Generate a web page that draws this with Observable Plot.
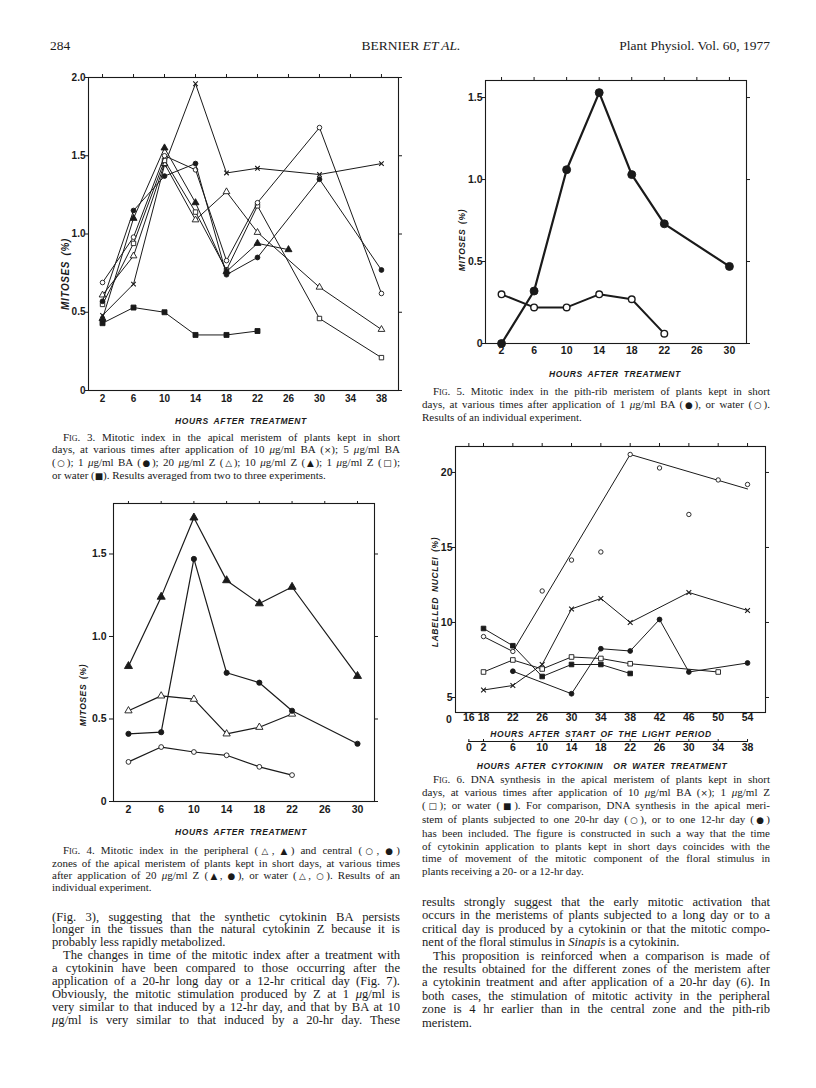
<!DOCTYPE html>
<html>
<head>
<meta charset="utf-8">
<script src="https://cdn.jsdelivr.net/npm/d3@7"></script>
<script src="https://cdn.jsdelivr.net/npm/@observablehq/plot@0.6"></script>
<style>
  html, body { margin: 0; padding: 0; background: #fff; }
  #page { position: relative; width: 816px; height: 1088px; overflow: hidden; background: #fff;
          font-family: "Liberation Serif", "Times New Roman", serif; color: #1a1a1a; }
  .abs { position: absolute; }
  .blk { position: absolute; }
  .blk > div { white-space: nowrap; overflow: visible; }
  .j { text-align: justify; text-align-last: justify; }
  .l { text-align: left; }
  .i { text-indent: 11px; }
  .sym { font-family: "DejaVu Sans", sans-serif; font-size: 0.8em; }
  .axt { position: absolute; font-family: "Liberation Sans", Arial, sans-serif; font-weight: bold; font-style: italic;
         white-space: nowrap; letter-spacing: 0.6px; word-spacing: 2px; transform: translate(-50%, -50%); }
  .axt.rot { transform: translate(-50%, -50%) rotate(-90deg); }
  .tk { position: absolute; font-family: "Liberation Sans", Arial, sans-serif; font-weight: bold; font-size: 10.5px;
        transform: translate(-50%, -50%); }
  .sc { font-variant: small-caps; }
  .hd { position: absolute; font-size: 13.5px; line-height: 16px; white-space: nowrap; }
  svg { display: block; }
</style>
</head>
<body>
<div id="page"></div>
<script>
// ---------------- DATA ----------------
// Fig. 3 — mitotic index, apical meristem (hours after treatment)
const fig3Hours = [2, 6, 10, 14, 18, 22, 26, 30, 34, 38];
const fig3BA10  = [0.48, 0.68, 1.44, 1.96, 1.39, 1.42, null, 1.38, null, 1.45];   // ×
const fig3BA5   = [0.69, 0.98, 1.50, 1.41, 0.83, 1.20, null, 1.68, null, 0.62];   // ○
const fig3BA1   = [0.57, 1.15, 1.37, 1.45, 0.74, 0.85, null, 1.35, null, 0.77];   // ●
const fig3Z20   = [0.61, 0.86, 1.45, 1.09, 1.27, 1.01, null, 0.66, null, 0.39];   // △
const fig3Z10   = [0.46, 1.10, 1.55, 1.20, 0.76, 0.94, 0.90, null, null, null];   // ▲
const fig3Z1    = [0.55, 0.94, 1.47, 1.14, 0.77, 1.18, null, 0.46, null, 0.21];   // □
const fig3Water = [0.43, 0.53, 0.50, 0.355, 0.355, 0.38, null, null, null, null]; // ■
const fig3XTicks = [2, 6, 10, 14, 18, 22, 26, 30, 34, 38];
const fig3YTicks = [0, 0.5, 1.0, 1.5, 2.0];

// Fig. 4 — peripheral and central zones
const fig4Hours = [2, 6, 10, 14, 18, 22, 26, 30];
const fig4PeriZ  = [0.82, 1.24, 1.72, 1.34, 1.20, 1.30, null, 0.76];  // ▲
const fig4CentZ  = [0.41, 0.42, 1.47, 0.78, 0.72, 0.55, null, 0.35];  // ●
const fig4PeriW  = [0.55, 0.64, 0.62, 0.41, 0.45, 0.53, null, null];  // △
const fig4CentW  = [0.24, 0.33, 0.30, 0.28, 0.21, 0.16, null, null];  // ○
const fig4XTicks = [2, 6, 10, 14, 18, 22, 26, 30];
const fig4YTicks = [0, 0.5, 1.0, 1.5];

// Fig. 5 — pith-rib meristem
const fig5Hours = [2, 6, 10, 14, 18, 22, 26, 30];
const fig5BA1   = [0.00, 0.32, 1.06, 1.53, 1.03, 0.73, null, 0.47];   // ●
const fig5Water = [0.30, 0.22, 0.22, 0.30, 0.27, 0.06, null, null];   // ○
const fig5XTicks = [2, 6, 10, 14, 18, 22, 26, 30];
const fig5YTicks = [0, 0.5, 1.0, 1.5];

// Fig. 6 — DNA synthesis (hours after start of the light period)
const fig6Hours  = [18, 22, 26, 30, 34, 38, 42, 46, 50, 54];
const fig6Day20  = [9.06, 8.07, 12.1, 14.16, 14.7, 21.2, 20.3, 17.2, 19.5, 19.2];   // ○ points
const fig6Day20LineHours = [18, 22, 38, 54];
const fig6Day20Line      = [9.06, 8.07, 21.2, 18.9];                                // ○ drawn line
const fig6BA10   = [5.5, 5.8, 7.2, 10.9, 11.6, 10.0, null, 12.0, null, 10.8];        // ×
const fig6Z1     = [6.7, 7.5, 6.9, 7.7, 7.6, 7.25, null, null, 6.7, null];           // □
const fig6Water  = [9.6, 8.45, 6.4, 7.2, 7.2, 6.6, null, null, null, null];          // ■
const fig6Day12  = [null, 6.75, null, 5.25, 8.25, 8.1, 10.2, 6.7, null, 7.3];        // ●
const fig6XTicks = [16, 18, 22, 26, 30, 34, 38, 42, 46, 50, 54];
const fig6YTicks = [5, 10, 15, 20];
const fig6TreatTicks = [0, 2, 6, 10, 14, 18, 22, 26, 30, 34, 38];
const fig6TreatOffset = 16; // treatment time 0 = 16 h after start of light period

// ---------------- HELPERS ----------------
const INK = "#1a1a1a";
const page = document.getElementById("page");

function pts(hours, vals) {
  return hours.map((h, i) => ({h, v: vals[i]})).filter(d => d.v != null);
}
function series(data, {symbol, filled, r, sw, line = true, msw = 0.9}) {
  const out = [];
  if (line) out.push(Plot.line(data, {x: "h", y: "v", stroke: INK, strokeWidth: sw}));
  out.push(Plot.dot(data, {
    x: "h", y: "v", symbol, r,
    fill: filled ? INK : (symbol === "times" ? "none" : "white"),
    stroke: INK, strokeWidth: symbol === "times" ? 1.1 : msw
  }));
  return out;
}
function fig({w, h, m, xDomain, yDomain, xTicks, yTicks, yFmt, ySize = 3, yPad = 0, topSize = 4, xPad = 3, fs = 10.5, marks}) {
  return Plot.plot({
    width: w, height: h,
    marginTop: m[0], marginRight: m[1], marginBottom: m[2], marginLeft: m[3],
    x: {domain: xDomain}, y: {domain: yDomain},
    style: {fontFamily: "'Liberation Sans', Arial, sans-serif", fontSize: fs + "px", fontWeight: "bold",
            color: INK, background: "transparent", overflow: "visible"},
    marks: [
      Plot.axisY(yTicks, {anchor: "left", tickSize: ySize, tickPadding: yPad, tickFormat: yFmt, label: null}),
      Plot.axisY(yTicks, {anchor: "right", tickSize: 3, tickFormat: () => "", label: null}),
      Plot.axisX(xTicks, {anchor: "bottom", tickSize: 0, tickPadding: xPad, tickFormat: d => String(d), label: null}),
      Plot.axisX(xTicks, {anchor: "top", tickSize: topSize, tickFormat: () => "", label: null}),
      Plot.frame({stroke: INK, strokeWidth: 1.1}),
      ...marks
    ]
  });
}
function place(el, left, top) {
  const d = document.createElement("div");
  d.className = "abs";
  d.style.left = left + "px"; d.style.top = top + "px";
  d.appendChild(el);
  page.appendChild(d);
}
function txt(cls, html, x, y, size) {
  const d = document.createElement("div");
  d.className = cls; d.innerHTML = html;
  d.style.left = x + "px"; d.style.top = y + "px";
  if (size) d.style.fontSize = size + "px";
  page.appendChild(d);
  return d;
}
function block(left, top, width, size, lh, lines) {
  const d = document.createElement("div");
  d.className = "blk";
  d.style.cssText = `left:${left}px;top:${top}px;width:${width}px;font-size:${size}px;line-height:${lh}px;`;
  for (const [html, mode] of lines) {
    const l = document.createElement("div");
    l.className = mode; l.innerHTML = html;
    d.appendChild(l);
  }
  page.appendChild(d);
}
const S = c => `<span class="sym">${c}</span>`;
const fmt1 = d => d === 0 ? "0" : d.toFixed(1);

// column geometry
const COL_L = 52, COL_W = 348, COL_R = 422;

// ---------------- HEADER ----------------
txt("hd", "284", 50, 38);
const hc = txt("hd", "BERNIER <i>ET AL.</i>", 411, 38);
hc.style.transform = "translateX(-50%)";
const hr = txt("hd", "Plant Physiol. Vol. 60, 1977", 770, 38);
hr.style.transform = "translateX(-100%)";

// ---------------- FIG. 3 ----------------
place(fig({
  w: 375, h: 355, m: [17, 17, 25, 48],
  xDomain: [0.19, 40.2], yDomain: [0, 2.0],
  xTicks: fig3XTicks, yTicks: fig3YTicks, yFmt: fmt1, ySize: 3, yPad: 0, topSize: 4, xPad: 4, fs: 10,
  marks: [
    ...series(pts(fig3Hours, fig3Water), {symbol: "square", filled: true, r: 2.8, sw: 1}),
    ...series(pts(fig3Hours, fig3BA10),  {symbol: "times", filled: false, r: 2.2, sw: 1}),
    ...series(pts(fig3Hours, fig3Z20),   {symbol: "triangle", filled: false, r: 2.5, sw: 1}),
    ...series(pts(fig3Hours, fig3Z1),    {symbol: "square", filled: false, r: 2.5, sw: 1}),
    ...series(pts(fig3Hours, fig3BA5),   {symbol: "circle", filled: false, r: 2.3, sw: 1}),
    ...series(pts(fig3Hours, fig3Z10),   {symbol: "triangle", filled: true, r: 2.6, sw: 1}),
    ...series(pts(fig3Hours, fig3BA1),   {symbol: "circle", filled: true, r: 2.4, sw: 1})
  ]
}), 40, 60);
txt("axt", "HOURS AFTER TREATMENT", 241, 421, 8.5);
txt("axt rot", "MITOSES (%)", 65, 274, 10);
block(COL_L, 431, COL_W, 11, 12.1, [
  ['<span class="sc">Fig</span>. 3. Mitotic index in the apical meristem of plants kept in short', 'j i'],
  [`days, at various times after application of 10 <i>μ</i>g/ml BA (${S("×")}); 5 <i>μ</i>g/ml BA`, 'j'],
  [`(${S("○")}); 1 <i>μ</i>g/ml BA (${S("●")}); 20 <i>μ</i>g/ml Z (${S("△")}); 10 <i>μ</i>g/ml Z (${S("▲")}); 1 <i>μ</i>g/ml Z (${S("□")});`, 'j'],
  [`or water (${S("■")}). Results averaged from two to three experiments.`, 'l']
]);

// ---------------- FIG. 5 ----------------
place(fig({
  w: 320, h: 300, m: [16, 14, 21, 45],
  xDomain: [0.03, 32.1], yDomain: [0, 1.604],
  xTicks: fig5XTicks, yTicks: fig5YTicks, yFmt: fmt1, ySize: 3, yPad: 0, topSize: 4, xPad: 3, fs: 10.5,
  marks: [
    ...series(pts(fig5Hours, fig5Water), {symbol: "circle", filled: false, r: 3.3, sw: 2.0, msw: 1.4}),
    ...series(pts(fig5Hours, fig5BA1),   {symbol: "circle", filled: true, r: 4, sw: 2.2})
  ]
}), 440, 64);
txt("axt", "HOURS AFTER TREATMENT", 615, 374, 8.5);
txt("axt rot", "MITOSES (%)", 462, 240, 8.5);
block(COL_R, 385, COL_W, 11, 12.5, [
  ['<span class="sc">Fig</span>. 5. Mitotic index in the pith-rib meristem of plants kept in short', 'j i'],
  [`days, at various times after application of 1 <i>μ</i>g/ml BA (${S("●")}), or water (${S("○")}).`, 'j'],
  ['Results of an individual experiment.', 'l']
]);

// ---------------- FIG. 4 ----------------
place(fig({
  w: 320, h: 340, m: [16, 16, 26, 43],
  xDomain: [0.17, 32.08], yDomain: [0, 1.806],
  xTicks: fig4XTicks, yTicks: fig4YTicks, yFmt: fmt1, ySize: 4, yPad: 3, topSize: 3, xPad: 4, fs: 10.5,
  marks: [
    ...series(pts(fig4Hours, fig4CentW), {symbol: "circle", filled: false, r: 2.4, sw: 1.2}),
    ...series(pts(fig4Hours, fig4PeriW), {symbol: "triangle", filled: false, r: 2.7, sw: 1.2}),
    ...series(pts(fig4Hours, fig4CentZ), {symbol: "circle", filled: true, r: 2.6, sw: 1.2}),
    ...series(pts(fig4Hours, fig4PeriZ), {symbol: "triangle", filled: true, r: 3.0, sw: 1.2})
  ]
}), 70, 487);
txt("axt", "HOURS AFTER TREATMENT", 241, 832, 8.5);
txt("axt rot", "MITOSES (%)", 83, 695, 8.5);
block(COL_L, 845, COL_W, 11, 11.8, [
  [`<span class="sc">Fig</span>. 4. Mitotic index in the peripheral (${S("△")}, ${S("▲")}) and central (${S("○")}, ${S("●")})`, 'j i'],
  ['zones of the apical meristem of plants kept in short days, at various times', 'j'],
  [`after application of 20 <i>μ</i>g/ml Z (${S("▲")}, ${S("●")}), or water (${S("△")}, ${S("○")}). Results of an`, 'j'],
  ['individual experiment.', 'l']
]);

// ---------------- FIG. 6 ----------------
const fig6Domain = [14.18, 56.45];
place(fig({
  w: 360, h: 300, m: [16, 20, 18, 30],
  xDomain: fig6Domain, yDomain: [4.0, 21.73],
  xTicks: fig6XTicks, yTicks: fig6YTicks, yFmt: d => String(d), ySize: 3, yPad: 0, topSize: 4, xPad: 1, fs: 10.5,
  marks: [
    Plot.line(pts(fig6Day20LineHours, fig6Day20Line), {x: "h", y: "v", stroke: INK, strokeWidth: 1}),
    ...series(pts(fig6Hours, fig6Day20), {symbol: "circle", filled: false, r: 2.2, sw: 1, line: false}),
    ...series(pts(fig6Hours, fig6BA10),  {symbol: "times", filled: false, r: 2.3, sw: 1}),
    ...series(pts(fig6Hours, fig6Z1),    {symbol: "square", filled: false, r: 2.6, sw: 1}),
    ...series(pts(fig6Hours, fig6Water), {symbol: "square", filled: true, r: 2.6, sw: 1}),
    ...series(pts(fig6Hours, fig6Day12), {symbol: "circle", filled: true, r: 2.4, sw: 1})
  ]
}), 425, 430);
txt("tk", "0", 449, 719);
txt("axt", "HOURS AFTER START OF THE LIGHT PERIOD", 601, 734, 8.5);
// second axis: hours after cytokinin or water treatment
place(Plot.plot({
  width: 360, height: 25, marginTop: 6, marginRight: 20, marginBottom: 18, marginLeft: 30,
  x: {domain: fig6Domain.map(d => d - fig6TreatOffset)},
  y: {domain: [0, 1], axis: null},
  style: {fontFamily: "'Liberation Sans', Arial, sans-serif", fontSize: "10.5px", fontWeight: "bold",
          color: INK, background: "transparent", overflow: "visible"},
  marks: [
    Plot.ruleY([1], {x1: d3.min(fig6TreatTicks), x2: d3.max(fig6TreatTicks), stroke: INK, strokeWidth: 1.1}),
    Plot.axisX(fig6TreatTicks, {anchor: "top", tickSize: 3, tickFormat: () => "", label: null}),
    Plot.axisX(fig6TreatTicks, {anchor: "bottom", tickSize: 0, tickPadding: 1, tickFormat: d => String(d), label: null})
  ]
}), 425, 735);
txt("axt", "HOURS AFTER CYTOKININ &nbsp;OR WATER TREATMENT", 602, 766, 8.5);
txt("axt rot", "LABELLED NUCLEI (%)", 435, 592, 8.5);
block(COL_R, 773, COL_W, 11, 12.7, [
  ['<span class="sc">Fig</span>. 6. DNA synthesis in the apical meristem of plants kept in short', 'j i'],
  [`days, at various times after application of 10 <i>μ</i>g/ml BA (${S("×")}); 1 <i>μ</i>g/ml Z`, 'j'],
  [`(${S("□")}); or water (${S("■")}). For comparison, DNA synthesis in the apical meri-`, 'j'],
  [`stem of plants subjected to one 20-hr day (${S("○")}), or to one 12-hr day (${S("●")})`, 'j'],
  ['has been included. The figure is constructed in such a way that the time', 'j'],
  ['of cytokinin application to plants kept in short days coincides with the', 'j'],
  ['time of movement of the mitotic component of the floral stimulus in', 'j'],
  ['plants receiving a 20- or a 12-hr day.', 'l']
]);

// ---------------- BODY TEXT ----------------
block(COL_L, 910.5, COL_W, 12.6, 12.9, [
  ['(Fig. 3), suggesting that the synthetic cytokinin BA persists', 'j'],
  ['longer in the tissues than the natural cytokinin Z because it is', 'j'],
  ['probably less rapidly metabolized.', 'l'],
  ['The changes in time of the mitotic index after a treatment with', 'j i'],
  ['a cytokinin have been compared to those occurring after the', 'j'],
  ['application of a 20-hr long day or a 12-hr critical day (Fig. 7).', 'j'],
  ['Obviously, the mitotic stimulation produced by Z at 1 <i>μ</i>g/ml is', 'j'],
  ['very similar to that induced by a 12-hr day, and that by BA at 10', 'j'],
  ['<i>μ</i>g/ml is very similar to that induced by a 20-hr day. These', 'j']
]);
block(COL_R, 896, COL_W, 12.6, 13.4, [
  ['results strongly suggest that the early mitotic activation that', 'j'],
  ['occurs in the meristems of plants subjected to a long day or to a', 'j'],
  ['critical day is produced by a cytokinin or that the mitotic compo-', 'j'],
  ['nent of the floral stimulus in <i>Sinapis</i> is a cytokinin.', 'l'],
  ['This proposition is reinforced when a comparison is made of', 'j i'],
  ['the results obtained for the different zones of the meristem after', 'j'],
  ['a cytokinin treatment and after application of a 20-hr day (6). In', 'j'],
  ['both cases, the stimulation of mitotic activity in the peripheral', 'j'],
  ['zone is 4 hr earlier than in the central zone and the pith-rib', 'j'],
  ['meristem.', 'l']
]);

// keep every typeset line within its column width
document.querySelectorAll(".blk > div").forEach(l => {
  let fs = parseFloat(getComputedStyle(l).fontSize);
  let guard = 0;
  while (l.scrollWidth > l.clientWidth + 0.5 && guard++ < 40) {
    fs -= 0.1;
    l.style.fontSize = fs + "px";
  }
});
</script>
</body>
</html>
